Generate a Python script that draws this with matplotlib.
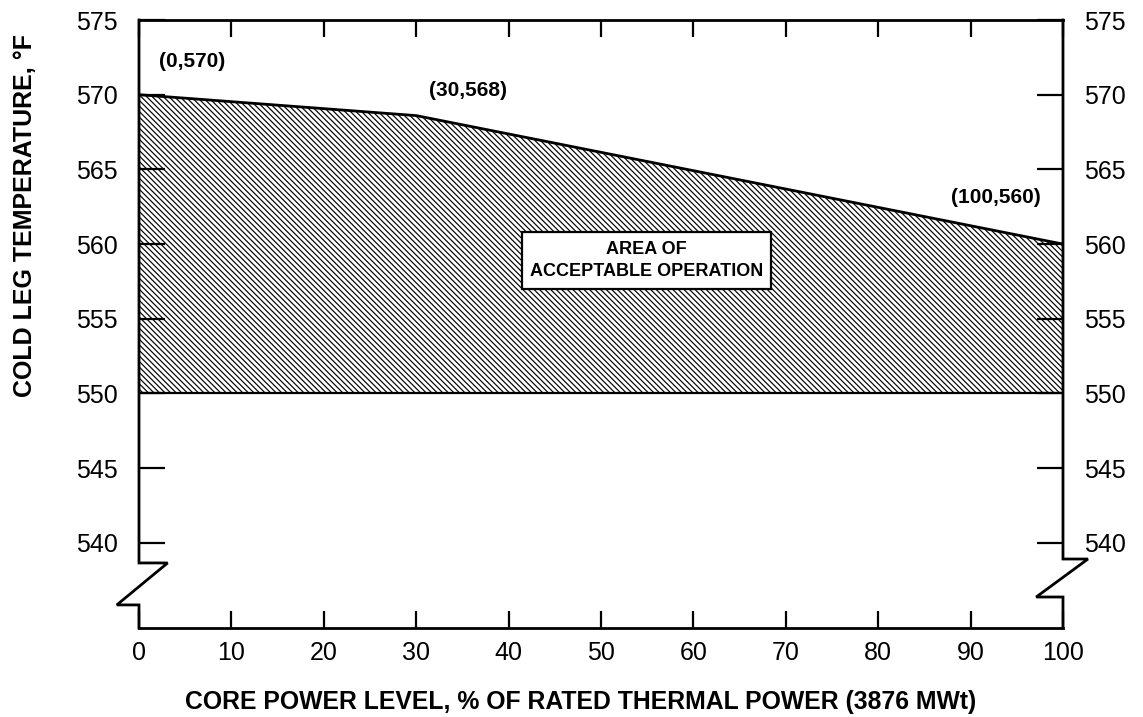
import matplotlib
matplotlib.use("Agg")
import matplotlib.pyplot as plt

# boundary of the acceptable region
power = [0, 30, 100]
temp_upper = [570, 568.6, 560]
temp_lower = 550

point_labels = ["(0,570)", "(30,568)", "(100,560)"]
label_pos = [(5.7, 572.2), (35.6, 570.3), (92.7, 563.1)]

x_ticks = [0, 10, 20, 30, 40, 50, 60, 70, 80, 90, 100]
y_ticks = [540, 545, 550, 555, 560, 565, 570, 575]

plt.rcParams["font.family"] = ["Liberation Sans", "DejaVu Sans"]
plt.rcParams["hatch.linewidth"] = 0.85

fig = plt.figure(figsize=(11.43, 7.17), dpi=100)
ax = fig.add_axes([0.1216, 0.1241, 0.8084, 0.848])

ax.fill_between(power, temp_upper, temp_lower, facecolor="white", edgecolor="black",
                hatch="\\\\\\\\\\\\", linewidth=0)
ax.plot(power, temp_upper, color="black", lw=2)
ax.plot([power[0], power[-1]], [temp_lower, temp_lower], color="black", lw=1.6)

ax.set_xlim(0, 100)
ax.set_ylim(534.3, 575)
ax.set_xticks(x_ticks)
ax.set_yticks(y_ticks)

ax.tick_params(axis="x", which="both", direction="in", length=12, width=1.6,
               top=True, bottom=True, labelsize=18, pad=9)
ax.tick_params(axis="y", which="both", direction="in", length=19, width=1.6,
               left=True, right=True, labelleft=True, labelright=True,
               labelsize=18, pad=15)

for side in ["left", "right"]:
    ax.spines[side].set_visible(False)
for side in ["top", "bottom"]:
    ax.spines[side].set_linewidth(2)

# broken left / right axis lines
tr = ax.transAxes
ax.plot([0, 0, 0.031, -0.024, 0, 0], [1, 0.107, 0.107, 0.038, 0.038, 0],
        transform=tr, color="black", lw=2, clip_on=False, solid_joinstyle="miter")
ax.plot([1, 1, 1.027, 0.971, 1, 1], [1, 0.1135, 0.1135, 0.051, 0.051, 0],
        transform=tr, color="black", lw=2, clip_on=False, solid_joinstyle="miter")

for txt, (lx, ly) in zip(point_labels, label_pos):
    ax.text(lx, ly, txt, ha="center", va="center", fontsize=15, fontweight="bold")

ax.text(54.9, 558.9, "AREA OF\nACCEPTABLE OPERATION", ha="center", va="center",
        fontsize=13, fontweight="bold", linespacing=1.45,
        bbox=dict(boxstyle="square,pad=0.45", facecolor="white", edgecolor="black", lw=1.6))

fig.text(25 / 1143, 1 - 215 / 717, "COLD LEG TEMPERATURE, °F", rotation=90,
         ha="center", va="center", fontsize=18, fontweight="bold")
fig.text(581 / 1143, 1 - 702 / 717, "CORE POWER LEVEL, % OF RATED THERMAL POWER (3876 MWt)",
         ha="center", va="center", fontsize=17.8, fontweight="bold")

fig.savefig("out.png", dpi=100)
